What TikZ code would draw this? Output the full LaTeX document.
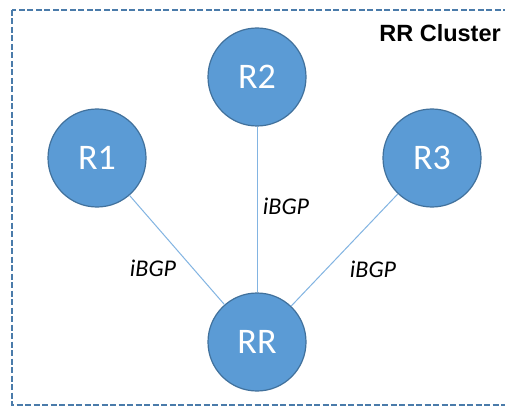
\documentclass[tikz,border=0pt]{standalone}
\usepackage{fontspec}
\setmainfont{Carlito}
\newfontfamily\headfont{Liberation Sans}
\begin{document}
\begin{tikzpicture}[x=1pt,y=-1pt,
  router/.style={circle,draw=routeredge,line width=1.2pt,fill=routerfill,
    minimum size=98pt,inner sep=0pt,text=white,font=\fontsize{36}{40}\selectfont},
  link/.style={draw=linkblue,line width=1pt},
  linklabel/.style={font=\fontsize{24}{28}\selectfont\itshape,inner sep=0pt},
]
\definecolor{routerfill}{HTML}{5B9BD5}
\definecolor{routeredge}{HTML}{41719C}
\definecolor{linkblue}{HTML}{82B4E2}
\definecolor{framecol}{HTML}{4A7BAA}
\useasboundingbox (0,0) rectangle (505,406);
\fill[white] (0,0) rectangle (505,406);
\begin{scope}
  \clip (0,0) rectangle (505,406);
  \draw[framecol,line width=1.5pt,dash pattern=on 6pt off 2.5pt]
    (12,10) rectangle (520,405);
\end{scope}
\node[font=\headfont\bfseries\fontsize{23.5}{26}\selectfont,anchor=east,inner sep=0pt]
  (title) at (501,33) {RR Cluster};

\node[router] (r1) at (97,158) {R1};
\node[router] (r2) at (257,77) {R2};
\node[router] (r3) at (432,158) {R3};
\node[router] (rr) at (257,342) {RR};

\draw[link] (r1) -- (rr);
\draw[link] (r2) -- (rr);
\draw[link] (r3) -- (rr);

\node[linklabel] (l1) at (153,268) {iBGP};
\node[linklabel] (l2) at (286,206) {iBGP};
\node[linklabel] (l3) at (373,269) {iBGP};
\end{tikzpicture}
\end{document}
